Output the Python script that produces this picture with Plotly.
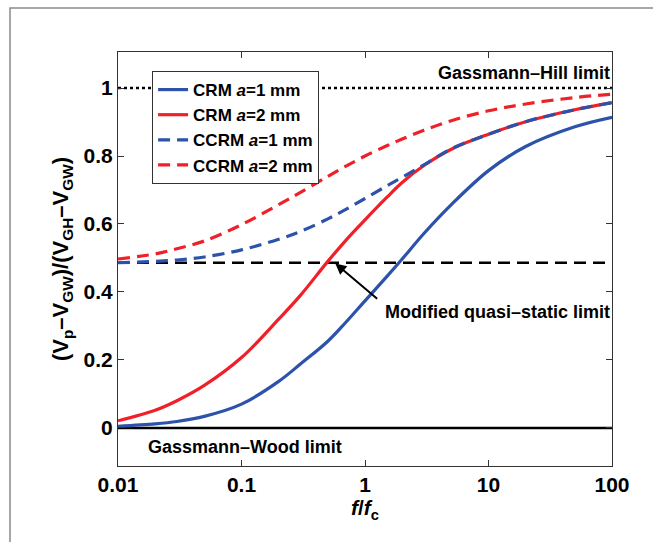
import plotly.graph_objects as go
import math

# ---- data ----
f_ratio = [0.01, 0.02, 0.03, 0.05, 0.1, 0.2, 0.3, 0.5, 0.7, 1, 1.5, 2, 3, 5, 10, 20, 50, 100]
crm_a1 = [0.005, 0.012, 0.019, 0.034, 0.070, 0.137, 0.188, 0.255, 0.311, 0.374, 0.445, 0.497,
          0.572, 0.657, 0.757, 0.828, 0.886, 0.914]
crm_a2 = [0.021, 0.052, 0.080, 0.125, 0.207, 0.320, 0.390, 0.490, 0.552, 0.612, 0.678, 0.722,
          0.772, 0.820, 0.864, 0.901, 0.936, 0.957]
ccrm_a1 = [0.486, 0.490, 0.494, 0.503, 0.524, 0.555, 0.578, 0.615, 0.643, 0.675, 0.712, 0.737,
           0.774, 0.821, 0.864, 0.901, 0.936, 0.957]
ccrm_a2 = [0.497, 0.512, 0.527, 0.550, 0.598, 0.657, 0.693, 0.740, 0.770, 0.800, 0.830, 0.850,
           0.876, 0.904, 0.933, 0.953, 0.972, 0.982]

series_names = ["CRM <i>a</i>=1 mm", "CRM <i>a</i>=2 mm", "CCRM <i>a</i>=1 mm", "CCRM <i>a</i>=2 mm"]

limit_x = [0.01, 100]
gh_limit = 1.0
mqs_limit = 0.486
gw_limit = 0.0

x_ticks = [0.01, 0.1, 1, 10, 100]
x_ticklabels = ["0.01", "0.1", "1", "10", "100"]
y_ticks = [0, 0.2, 0.4, 0.6, 0.8, 1]
y_ticklabels = ["0", "0.2", "0.4", "0.6", "0.8", "1"]

BLUE = "rgb(44,82,170)"
RED = "rgb(240,32,40)"
FONT = "Liberation Sans, Arial, sans-serif"

fig = go.Figure()

# reference limit lines
fig.add_trace(go.Scatter(x=limit_x, y=[gh_limit, gh_limit], mode="lines",
                         line=dict(color="black", width=2.5, dash="dot"),
                         showlegend=False, hoverinfo="skip"))
fig.add_trace(go.Scatter(x=limit_x, y=[mqs_limit, mqs_limit], mode="lines",
                         line=dict(color="black", width=2.5, dash="12px,7px"),
                         showlegend=False, hoverinfo="skip"))
fig.add_trace(go.Scatter(x=limit_x, y=[gw_limit, gw_limit], mode="lines",
                         line=dict(color="black", width=2.5),
                         showlegend=False, hoverinfo="skip"))

styles = [(crm_a1, BLUE, "solid"), (crm_a2, RED, "solid"),
          (ccrm_a1, BLUE, "12px,7px"), (ccrm_a2, RED, "12px,7px")]
for name, (vals, col, dash) in zip(series_names, styles):
    fig.add_trace(go.Scatter(x=f_ratio, y=vals, mode="lines", name="<b>" + name + "</b>",
                             line=dict(color=col, width=3.2, dash=dash, shape="spline", smoothing=1.0)))

# annotations
fig.add_annotation(x=math.log10(0.575), y=0.484, ax=math.log10(1.29), ay=0.376,
                   axref="x", ayref="y", xref="x", yref="y", text="",
                   showarrow=True, arrowhead=2, arrowsize=1.1, arrowwidth=2, arrowcolor="black", standoff=0)
fig.add_annotation(x=1, xref="paper", y=0.342, yref="y", xanchor="right", yanchor="middle",
                   text="<b>Modified quasi–static limit</b>", showarrow=False,
                   font=dict(family=FONT, size=18, color="black"))
fig.add_annotation(x=1, xref="paper", y=1.044, yref="y", xanchor="right", yanchor="middle",
                   text="<b>Gassmann–Hill limit</b>", showarrow=False,
                   font=dict(family=FONT, size=18, color="black"))
fig.add_annotation(x=math.log10(0.0168), xref="x", y=-0.056, yref="y", xanchor="left", yanchor="middle",
                   text="<b>Gassmann–Wood limit</b>", showarrow=False,
                   font=dict(family=FONT, size=18, color="black"))

# figure frame
fig.add_shape(type="rect", xref="paper", yref="paper", x0=-0.2186, x1=2, y0=-2, y1=1.106,
              line=dict(color="#8a8a8a", width=1.5), layer="below")

fig.update_layout(
    width=653, height=542,
    margin=dict(l=118, r=41, t=52, b=76),
    paper_bgcolor="white", plot_bgcolor="white",
    font=dict(family=FONT, color="black"),
    legend=dict(x=0.069, y=0.954, xanchor="left", yanchor="top",
                bgcolor="white", bordercolor="#333", borderwidth=1,
                font=dict(family=FONT, size=17, color="black"),
                tracegroupgap=0, itemwidth=30),
    xaxis=dict(type="log", range=[-2, 2], tickvals=x_ticks,
               ticktext=["<b>%s</b>" % t for t in x_ticklabels],
               tickfont=dict(family=FONT, size=21, color="black"),
               ticks="inside", ticklen=6, tickcolor="#333",
               showline=True, linecolor="#333", linewidth=1, mirror="ticks",
               showgrid=False, zeroline=False,
               title=dict(text="<b><i>f</i>/<i>f</i><sub>c</sub></b>",
                          font=dict(family=FONT, size=21, color="black"), standoff=4)),
    yaxis=dict(range=[-0.112, 1.106], tickvals=y_ticks,
               ticktext=["<b>%s</b>" % t for t in y_ticklabels],
               tickfont=dict(family=FONT, size=21, color="black"),
               ticks="inside", ticklen=6, tickcolor="#333",
               showline=True, linecolor="#333", linewidth=1, mirror="ticks",
               showgrid=False, zeroline=False,
               title=dict(text="<b>(V<sub>p</sub>–V<sub>GW</sub>)/(V<sub>GH</sub>–V<sub>GW</sub>)</b>",
                          font=dict(family=FONT, size=22, color="black"), standoff=8)),
)

fig.write_html("out.html", config={"displayModeBar": False},
               post_script="document.body.style.margin='0';document.body.style.overflow='hidden';")
